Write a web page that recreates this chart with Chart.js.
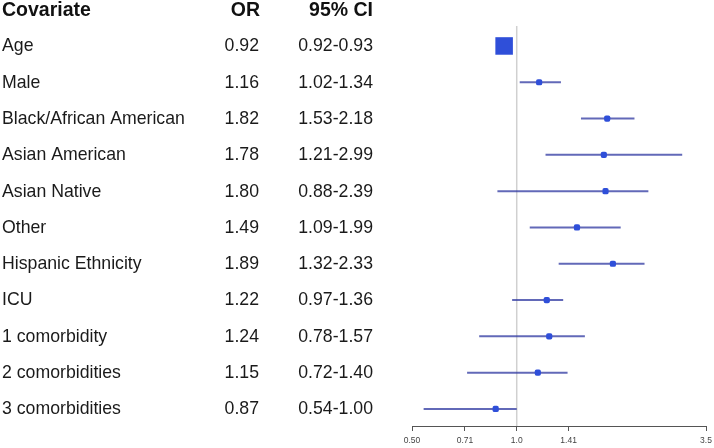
<!DOCTYPE html>
<html>
<head>
<meta charset="utf-8">
<script src="https://cdn.jsdelivr.net/npm/chart.js@4"></script>
<style>
  body { margin: 0; background: #fff; }
  #wrap { width: 714px; height: 448px; }
</style>
</head>
<body>
<div id="wrap"><canvas id="forest"></canvas></div>
<script>
// Dados do forest plot
const covariates = ['Age', 'Male', 'Black/African American', 'Asian American', 'Asian Native', 'Other',
    'Hispanic Ethnicity', 'ICU', '1 comorbidity', '2 comorbidities', '3 comorbidities'];
const oddsRatio = [0.92, 1.16, 1.82, 1.78, 1.80, 1.49, 1.89, 1.22, 1.24, 1.15, 0.87];
const ciLow = [0.92, 1.02, 1.53, 1.21, 0.88, 1.09, 1.32, 0.97, 0.78, 0.72, 0.54];
const ciHigh = [0.93, 1.34, 2.18, 2.99, 2.39, 1.99, 2.33, 1.36, 1.57, 1.40, 1.00];
const headers = ['Covariate', 'OR', '95% CI'];
const tickValues = [0.5, 0.71, 1.0, 1.41, 3.5];
const tickLabels = ['0.50', '0.71', '1.0', '1.41', '3.5'];

const FONT = '"Liberation Sans", Arial, Helvetica, sans-serif';
const Y_TOP = -0.55;
const Y_BOTTOM = 10.47;

// Linha de referência em OR = 1
const refLine = {
    type: 'line',
    data: [{ x: 1, y: Y_TOP }, { x: 1, y: Y_BOTTOM }],
    borderColor: '#d0d0d0',
    borderWidth: 1.5,
    pointRadius: 0,
    order: 3
};

// Um segmento por linha para o intervalo de confiança
const ciLines = covariates.map((c, i) => ({
    type: 'line',
    data: [{ x: ciLow[i], y: i }, { x: ciHigh[i], y: i }],
    borderColor: 'rgba(45, 55, 160, 0.75)',
    borderWidth: 2,
    pointRadius: 0,
    order: 2
}));

// Pontos (OR) - Age tem a caixa grande
const points = {
    type: 'scatter',
    data: oddsRatio.map((v, i) => ({ x: v, y: i })),
    backgroundColor: '#2f4fd9',
    borderColor: '#2f4fd9',
    borderWidth: 0,
    pointStyle: ctx => ctx.dataIndex === 0 ? 'rect' : 'rectRounded',
    pointRadius: ctx => ctx.dataIndex === 0 ? 12.4 : 3.6,
    order: 1
};

// Plugin que escreve a tabela à esquerda
const tablePlugin = {
    id: 'tabela',
    afterDraw(chart) {
        const ctx = chart.ctx;
        const y = chart.scales.y;
        ctx.save();
        ctx.textBaseline = 'middle';
        ctx.fillStyle = '#111';

        ctx.font = 'bold 19.5px ' + FONT;
        const hy = y.getPixelForValue(-0.97);
        ctx.textAlign = 'left';
        ctx.fillText(headers[0], 2, hy);
        ctx.textAlign = 'right';
        ctx.fillText(headers[1], 260, hy);
        ctx.fillText(headers[2], 373, hy);

        ctx.font = '17.7px ' + FONT;
        ctx.fillStyle = '#1a1a1a';
        covariates.forEach((c, i) => {
            const py = y.getPixelForValue(i) + 0.5;
            ctx.textAlign = 'left';
            ctx.fillText(c, 2, py);
            ctx.textAlign = 'right';
            ctx.fillText(oddsRatio[i].toFixed(2), 259, py);
            ctx.fillText(ciLow[i].toFixed(2) + '-' + ciHigh[i].toFixed(2), 373, py);
        });
        ctx.restore();
    }
};

new Chart(document.getElementById('forest'), {
    data: { datasets: [refLine, ...ciLines, points] },
    options: {
        responsive: true,
        maintainAspectRatio: false,
        animation: false,
        layout: { autoPadding: false, padding: { left: 412, right: 8, top: 26, bottom: 2 } },
        plugins: { legend: { display: false }, tooltip: { enabled: false } },
        scales: {
            x: {
                type: 'logarithmic',
                min: 0.5,
                max: 3.5,
                bounds: 'data',
                afterBuildTicks: scale => {
                    scale.ticks = tickValues.map(v => ({ value: v }));
                },
                afterFit: scale => {
                    scale.height = 20;
                    scale.paddingLeft = 0;
                    scale.paddingRight = 0;
                },
                ticks: {
                    autoSkip: false,
                    maxRotation: 0,
                    padding: 5,
                    color: '#444',
                    font: { family: FONT, size: 8.5 },
                    callback: (v, i) => tickLabels[i]
                },
                grid: { drawOnChartArea: false, drawTicks: true, tickLength: 5, color: '#555' },
                border: { display: true, color: '#555', width: 1 }
            },
            y: {
                type: 'linear',
                reverse: true,
                min: Y_TOP,
                max: Y_BOTTOM,
                display: false
            }
        }
    },
    plugins: [tablePlugin]
});
</script>
</body>
</html>
